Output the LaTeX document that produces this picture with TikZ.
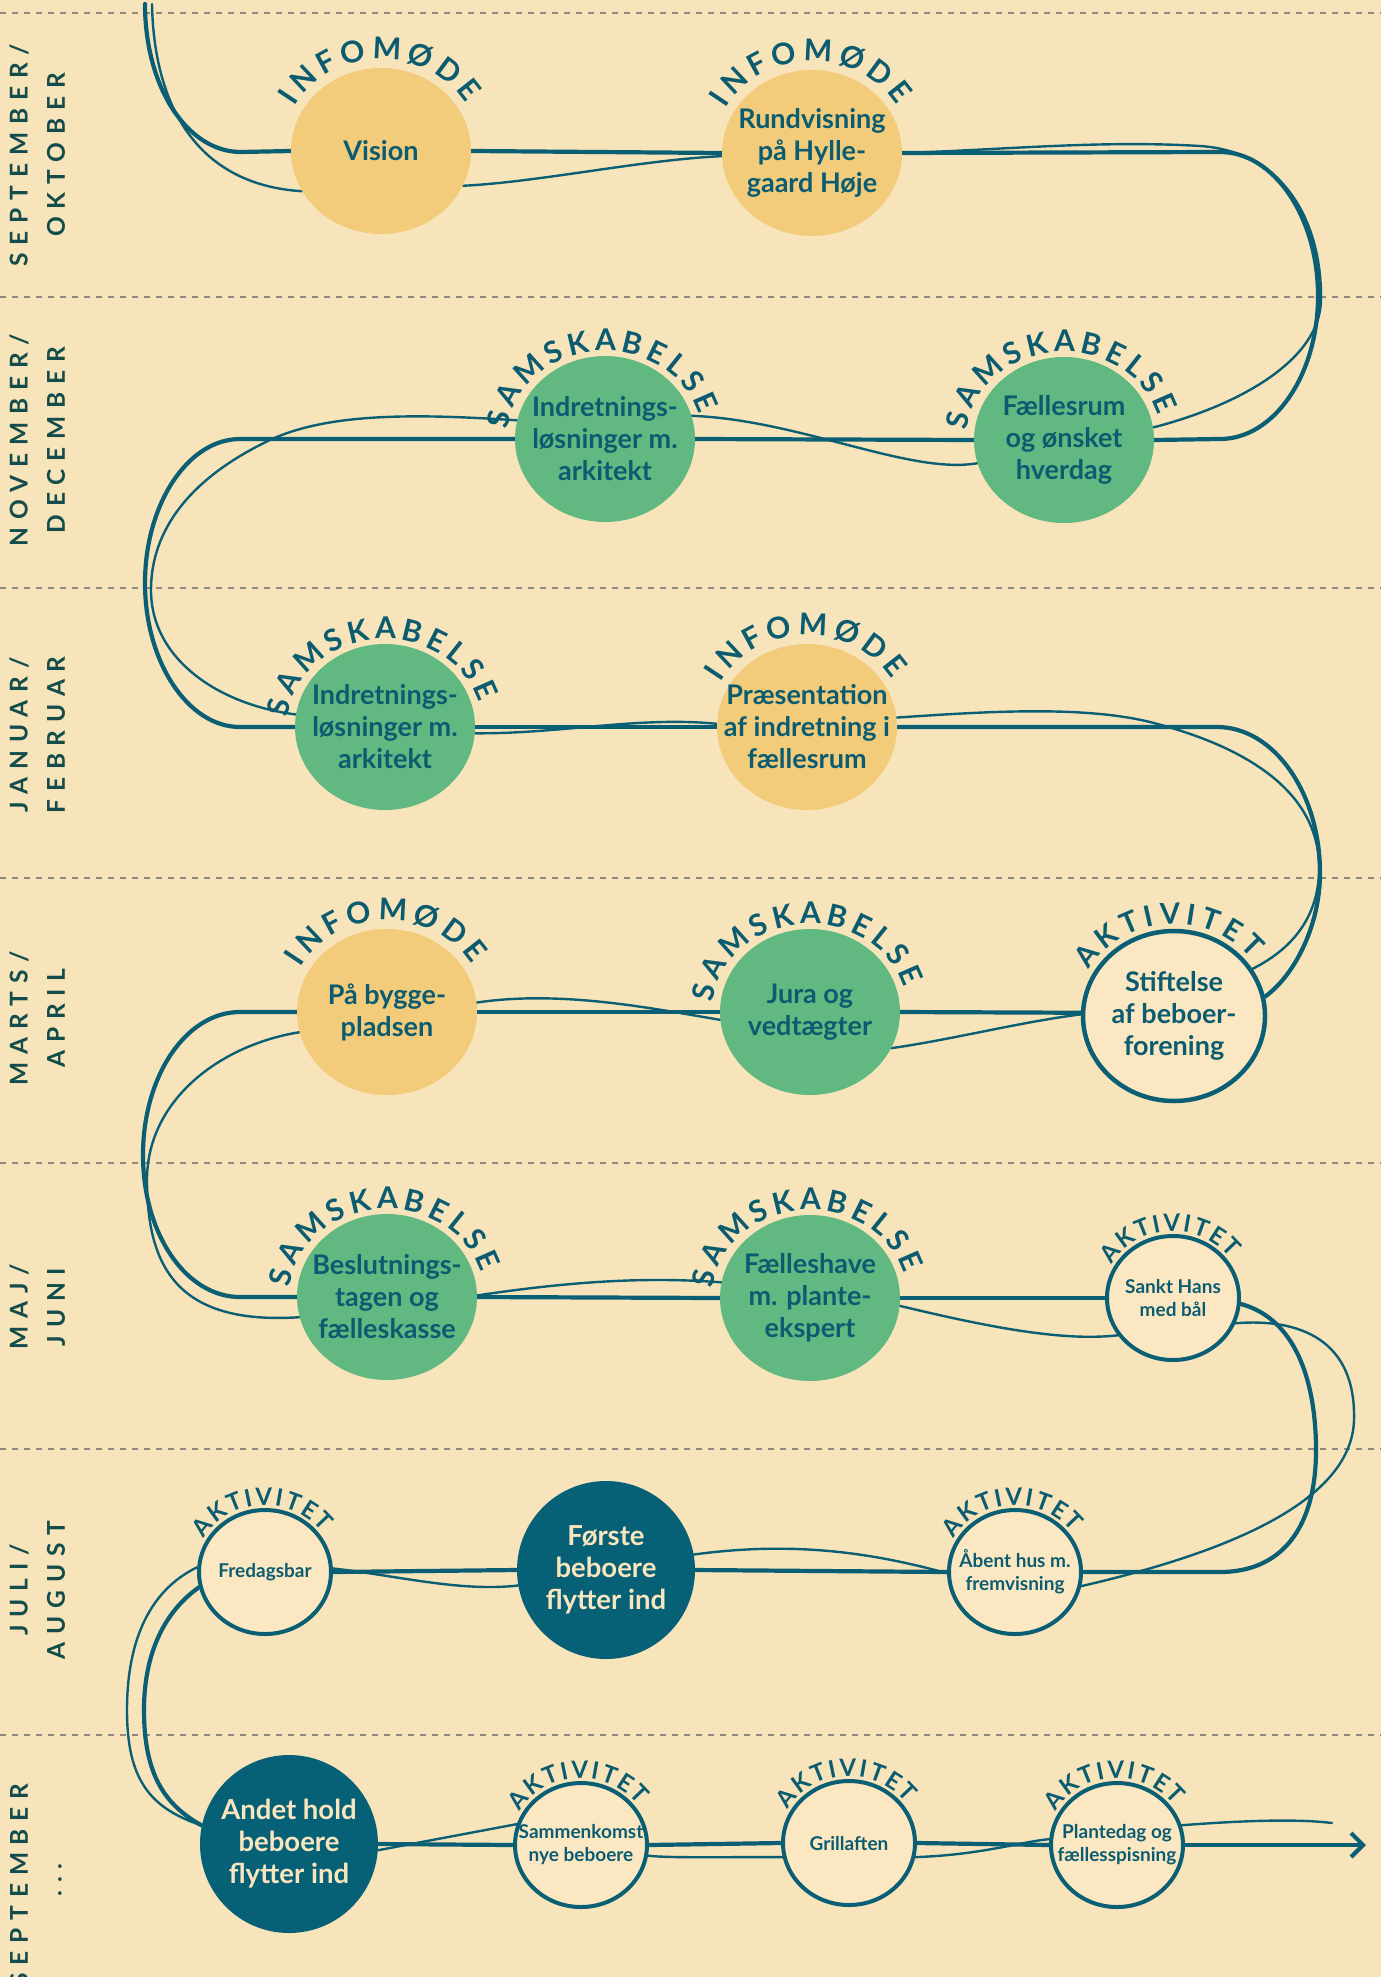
\documentclass[tikz,border=0pt]{standalone}
\usepackage{fontspec}
\setmainfont{Lato}
\usetikzlibrary{shapes.geometric,decorations.text,arrows.meta}
\definecolor{bgc}{HTML}{F8E4BB}
\definecolor{yelc}{HTML}{F2CB7B}
\definecolor{grnc}{HTML}{61B981}
\definecolor{darkc}{HTML}{066176}
\definecolor{linec}{HTML}{0A5F74}
\definecolor{txtc}{HTML}{0B5C70}
\definecolor{creamc}{HTML}{F9E6BF}
\definecolor{labc}{HTML}{134D4B}
\definecolor{dashc}{HTML}{8E8A80}
\definecolor{smallfill}{HTML}{FBE8C3}
\pgfdeclarelayer{bglayer}
\pgfdeclarelayer{linelayer}
\pgfsetlayers{bglayer,linelayer,main}
\newcommand\arcbig{\bfseries\fontsize{30}{30}\selectfont\color{txtc}}
\newcommand\arcmid{\bfseries\fontsize{29}{29}\selectfont\color{txtc}}
\newcommand\arcsmall{\bfseries\fontsize{24}{24}\selectfont\color{txtc}}
\newcommand\arctext[7]{\path[decorate,decoration={text along path,text={|#6|#7},text align=fit to path}] (#1) ++(#2:#4 and #5) arc[start angle=#2,end angle=#3,x radius=#4,y radius=#5];}
\begin{document}
\begin{tikzpicture}[x=1pt,y=-1pt,
  circ/.style={ellipse,inner sep=0pt,minimum width=180pt,minimum height=166pt},
  yelcirc/.style={circ,fill=yelc},
  grncirc/.style={circ,fill=grnc},
  darkcirc/.style={circ,fill=darkc,minimum width=178pt,minimum height=178pt},
  smallcirc/.style={ellipse,inner sep=0pt,minimum width=132pt,minimum height=124pt,draw=linec,line width=4pt,fill=smallfill},
  stiftcirc/.style={ellipse,inner sep=0pt,minimum width=182pt,minimum height=170pt,draw=linec,line width=4.5pt,fill=smallfill},
  bigtxt/.style={font={\bfseries\fontsize{27}{32}\selectfont},text=txtc,align=center,inner sep=0pt},
  darktxt/.style={font={\bfseries\fontsize{27.5}{32}\selectfont},text=creamc,align=center,inner sep=0pt},
  smalltxt/.style={font={\bfseries\fontsize{19}{23}\selectfont},text=txtc,align=center,inner sep=0pt},
  monthlab/.style={font={\bfseries\fontsize{24.5}{25}\selectfont\addfontfeature{LetterSpace=32}},text=labc,rotate=90,inner sep=0pt},
  thickl/.style={draw=linec,line width=4.2pt,line cap=round},
  thinl/.style={draw=linec,line width=2.4pt,line cap=round},
  dashl/.style={draw=dashc,line width=1.4pt,dash pattern=on 6pt off 6pt}]
\useasboundingbox (0,0) rectangle (1381,1977);
\begin{pgfonlayer}{bglayer}
\fill[bgc] (0,0) rectangle (1381,1977);
\foreach \yy in {13,297,588,878,1163,1449,1735}{\draw[dashl] (0,\yy) -- (1381,\yy);}
\end{pgfonlayer}

% month labels
\node[monthlab] (m1a) at (19,155) {SEPTEMBER/};
\node[monthlab] (m1b) at (56,155) {OKTOBER};
\node[monthlab] (m2a) at (19,440) {NOVEMBER/};
\node[monthlab] (m2b) at (56,440) {DECEMBER};
\node[monthlab] (m3a) at (19,735) {JANUAR/};
\node[monthlab] (m3b) at (56,735) {FEBRUAR};
\node[monthlab] (m4a) at (19,1018) {MARTS/};
\node[monthlab] (m4b) at (56,1018) {APRIL};
\node[monthlab] (m5a) at (19,1307) {MAJ/};
\node[monthlab] (m5b) at (56,1307) {JUNI};
\node[monthlab] (m6a) at (19,1590) {JULI/};
\node[monthlab] (m6b) at (56,1590) {AUGUST};
\node[monthlab] (m7a) at (19,1885) {SEPTEMBER};
\node[monthlab] (m7b) at (60,1880) {...};

% circles
\node[yelcirc] (vision) at (381,151) {};
\node[yelcirc] (rund) at (812,153) {};
\node[grncirc] (indr1) at (605,439) {};
\node[grncirc] (faelles) at (1064,440) {};
\node[grncirc] (indr2) at (385,727) {};
\node[yelcirc] (praes) at (807,727) {};
\node[yelcirc] (bygge) at (387,1012) {};
\node[grncirc] (jura) at (810,1012) {};
\node[stiftcirc] (stift) at (1174,1016) {};
\node[grncirc] (beslut) at (387,1297) {};
\node[grncirc] (have) at (810,1298) {};
\node[smallcirc] (sankt) at (1173,1298) {};
\node[smallcirc] (fredag) at (265,1572) {};
\node[darkcirc] (forste) at (606,1570) {};
\node[smallcirc] (aabent) at (1015,1572) {};
\node[darkcirc] (andet) at (289,1844) {};
\node[smallcirc] (samm) at (581,1845) {};
\node[smallcirc] (grill) at (849,1843) {};
\node[smallcirc] (plante) at (1117,1845) {};

% texts in circles
\node[bigtxt] (vision-t) at (vision) {Vision};
\node[bigtxt] (rund-t) at (rund) {Rundvisning\\på Hylle-\\gaard Høje};
\node[bigtxt] (indr1-t) at (indr1) {Indretnings-\\løsninger m.\\arkitekt};
\node[bigtxt] (faelles-t) at (faelles) {Fællesrum\\og ønsket\\hverdag};
\node[bigtxt] (indr2-t) at (indr2) {Indretnings-\\løsninger m.\\arkitekt};
\node[bigtxt] (praes-t) at (praes) {Præsentation\\af indretning i\\fællesrum};
\node[bigtxt] (bygge-t) at (bygge) {På bygge-\\pladsen};
\node[bigtxt] (jura-t) at (jura) {Jura og\\vedtægter};
\node[bigtxt] (stift-t) at (stift) {Stiftelse\\af beboer-\\forening};
\node[bigtxt] (beslut-t) at (beslut) {Beslutnings-\\tagen og\\fælleskasse};
\node[bigtxt] (have-t) at (have) {Fælleshave\\m. plante-\\ekspert};
\node[smalltxt] (sankt-t) at (sankt) {Sankt Hans\\med bål};
\node[smalltxt] (fredag-t) at (fredag) {Fredagsbar};
\node[darktxt] (forste-t) at (forste) {Første\\beboere\\flytter ind};
\node[smalltxt] (aabent-t) at (aabent) {Åbent hus m.\\fremvisning};
\node[darktxt] (andet-t) at (andet) {Andet hold\\beboere\\flytter ind};
\node[smalltxt] (samm-t) at (samm) {Sammenkomst\\nye beboere};
\node[smalltxt] (grill-t) at (grill) {Grillaften};
\node[smalltxt] (plante-t) at (plante) {Plantedag og\\fællesspisning};

% arc labels
\arctext{vision}{151}{31}{99pt}{92pt}{\arcbig}{INFOMØDE}
\arctext{rund}{151}{31}{99pt}{92pt}{\arcbig}{INFOMØDE}
\arctext{praes}{151}{31}{99pt}{92pt}{\arcbig}{INFOMØDE}
\arctext{bygge}{151}{31}{99pt}{92pt}{\arcbig}{INFOMØDE}
\arctext{indr1}{174}{16}{98pt}{88pt}{\arcbig}{SAMSKABELSE}
\arctext{faelles}{174}{16}{98pt}{88pt}{\arcbig}{SAMSKABELSE}
\arctext{indr2}{174}{16}{98pt}{88pt}{\arcbig}{SAMSKABELSE}
\arctext{jura}{174}{16}{98pt}{88pt}{\arcbig}{SAMSKABELSE}
\arctext{beslut}{174}{16}{98pt}{88pt}{\arcbig}{SAMSKABELSE}
\arctext{have}{174}{16}{98pt}{88pt}{\arcbig}{SAMSKABELSE}
\arctext{stift}{150}{38}{98pt}{92pt}{\arcmid}{AKTIVITET}
\arctext{sankt}{150}{36}{71pt}{67pt}{\arcsmall}{AKTIVITET}
\arctext{fredag}{150}{36}{71pt}{67pt}{\arcsmall}{AKTIVITET}
\arctext{aabent}{150}{36}{71pt}{67pt}{\arcsmall}{AKTIVITET}
\arctext{samm}{150}{36}{71pt}{67pt}{\arcsmall}{AKTIVITET}
\arctext{grill}{150}{36}{71pt}{67pt}{\arcsmall}{AKTIVITET}
\arctext{plante}{150}{36}{71pt}{67pt}{\arcsmall}{AKTIVITET}

\coordinate (s0) at (145,4);
\coordinate (t0) at (152,4);
\coordinate (aend) at (1366,1845);
\coordinate (tend) at (1332,1823);

\begin{pgfonlayer}{linelayer}
% thick main line
\draw[thickl] (s0) .. controls (145,87) and (187,152) .. (241,152) -- (vision.west);
\draw[thickl] (vision.east) -- (rund.west);
\draw[thickl] (rund.east) -- (1220,152) .. controls (1274,152) and (1318,217) .. (1318,296) .. controls (1318,375) and (1274,439) .. (1220,439) -- (faelles.east);
\draw[thickl] (faelles.west) -- (indr1.east);
\draw[thickl] (indr1.west) -- (240,439) .. controls (188,439) and (145,504) .. (145,583) .. controls (145,662) and (188,727) .. (240,727) -- (indr2.west);
\draw[thickl] (indr2.east) -- (praes.west);
\draw[thickl] (praes.east) -- (1217,727) .. controls (1274,727) and (1320,793) .. (1320,873) .. controls (1320,925) and (1295,975) .. (stift.12);
\draw[thickl] (stift.178) -- (jura.east);
\draw[thickl] (jura.west) -- (bygge.east);
\draw[thickl] (bygge.west) -- (240,1012) .. controls (186,1012) and (143,1076) .. (143,1155) .. controls (143,1234) and (186,1297) .. (240,1297) -- (beslut.west);
\draw[thickl] (beslut.east) -- (have.west);
\draw[thickl] (have.east) -- (sankt.west);
\draw[thickl] (sankt.-5) .. controls (1300,1320) and (1316,1390) .. (1316,1450) .. controls (1316,1530) and (1280,1572) .. (1220,1572) -- (aabent.east);
\draw[thickl] (aabent.west) -- (forste.east);
\draw[thickl] (forste.west) -- (fredag.east);
\draw[thickl] (fredag.193) .. controls (160,1615) and (144,1660) .. (144,1710) .. controls (144,1775) and (165,1805) .. (andet.168);
\draw[thickl] (andet.east) -- (samm.west);
\draw[thickl] (samm.east) -- (grill.west);
\draw[thickl] (grill.east) -- (plante.west);
\draw[thickl,-{Straight Barb[length=12pt,width=24pt]}] (plante.east) -- (aend);
% thin sketch line
\draw[thinl] (t0) .. controls (154,110) and (200,185) .. (vision.207);
\draw[thinl] (vision.-23) .. controls (540,182) and (640,160) .. (rund.182);
\draw[thinl] (rund.0) .. controls (1000,150) and (1100,140) .. (1200,146) .. controls (1290,152) and (1322,230) .. (1321,300) .. controls (1320,360) and (1240,405) .. (faelles.8);
\draw[thinl] (faelles.195) .. controls (910,475) and (800,420) .. (indr1.15);
\draw[thinl] (indr1.168) .. controls (420,414) and (330,412) .. (270,440) .. controls (190,478) and (151,530) .. (151,590) .. controls (151,660) and (220,705) .. (indr2.172);
\draw[thinl] (indr2.-4) .. controls (560,734) and (640,716) .. (praes.178);
\draw[thinl] (praes.6) .. controls (980,712) and (1080,705) .. (1150,722) .. controls (1260,750) and (1322,800) .. (1319,873) .. controls (1317,920) and (1290,950) .. (stift.31);
\draw[thinl] (stift.179) .. controls (1020,1022) and (950,1040) .. (jura.-24);
\draw[thinl] (jura.185) .. controls (650,1008) and (560,990) .. (bygge.6);
\draw[thinl] (bygge.193) .. controls (220,1045) and (147,1100) .. (147,1180) .. controls (147,1270) and (180,1325) .. (beslut.193);
\draw[thinl] (beslut.1) .. controls (560,1283) and (640,1276) .. (have.170);
\draw[thinl] (have.-5) .. controls (980,1325) and (1060,1342) .. (sankt.214);
\draw[thinl] (sankt.-22) .. controls (1300,1318) and (1356,1340) .. (1354,1420) .. controls (1352,1490) and (1260,1545) .. (aabent.-12);
\draw[thinl] (aabent.181) .. controls (880,1555) and (800,1540) .. (forste.10);
\draw[thinl] (forste.190) .. controls (460,1592) and (400,1576) .. (fredag.3);
\draw[thinl] (fredag.176) .. controls (150,1590) and (127,1640) .. (127,1710) .. controls (127,1780) and (150,1808) .. (andet.168);
\draw[thinl] (andet.-4) -- (samm.162);
\draw[thinl] (samm.-9) .. controls (665,1858) and (720,1857) .. (grill.192);
\draw[thinl] (grill.-12) .. controls (980,1855) and (1020,1842) .. (plante.175);
\draw[thinl] (plante.17) .. controls (1250,1820) and (1300,1819) .. (tend);
\end{pgfonlayer}
\end{tikzpicture}
\end{document}
